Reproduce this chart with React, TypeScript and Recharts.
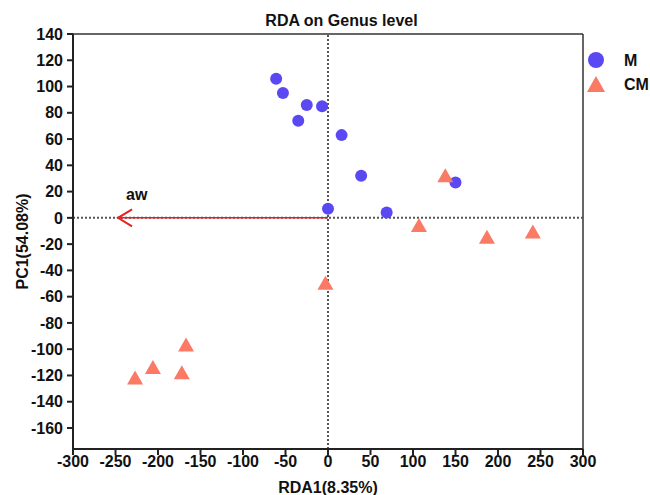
import {
  ScatterChart,
  Scatter,
  XAxis,
  YAxis,
  ReferenceLine,
  ReferenceDot
} from 'recharts'

// M group (circles)
const mX = [-61, -53, -35, -25, -7, 0, 16, 39, 69, 150]
const mY = [106, 95, 74, 86, 85, 7, 63, 32, 4, 27]

// CM group (triangles)
const cmX = [138, 107, 187, 241, -3, -167, -206, -172, -227]
const cmY = [31, -7, -16, -12, -51, -98, -115, -119, -123]

const xTicks = [-300, -250, -200, -150, -100, -50, 0, 50, 100, 150, 200, 250, 300]
const yTicks = [-160, -140, -120, -100, -80, -60, -40, -20, 0, 20, 40, 60, 80, 100, 120, 140]

// environmental vector
const arrowName = 'aw'
const arrowX = -247
const arrowY = 0

const BLUE = '#5a49f3'
const SALMON = '#fa7a66'
const RED = '#e8211d'
const FONT = '"Liberation Sans", Arial, sans-serif'

const mData = mX.map((x, i) => ({ x, y: mY[i] }))
const cmData = cmX.map((x, i) => ({ x, y: cmY[i] }))

const tickStyle = { fontFamily: FONT, fontSize: 16, fontWeight: 700, fill: '#111' }

function Dot(props: any) {
  const { cx, cy } = props
  return <circle cx={cx} cy={cy} r={6} fill={BLUE} />
}

function Tri(props: any) {
  const { cx, cy } = props
  // centroid at (cx, cy), side ~16
  return (
    <polygon
      points={`${cx},${cy - 9} ${cx - 8},${cy + 5} ${cx + 8},${cy + 5}`}
      fill={SALMON}
    />
  )
}

function ArrowHead(props: any) {
  const { cx, cy } = props
  return (
    <g>
      <path
        d={`M${cx + 14},${cy - 8.5} L${cx},${cy} L${cx + 14},${cy + 8.5}`}
        fill="none"
        stroke={RED}
        strokeWidth={2}
      />
      <text
        x={cx + 8}
        y={cy - 18}
        fontFamily={FONT}
        fontSize={16}
        fontWeight={700}
        fill="#111"
      >
        {arrowName}
      </text>
    </g>
  )
}

function LegendBox() {
  return (
    <svg width={70} height={50} style={{ position: 'absolute', left: 586, top: 48 }}>
      <circle cx={10} cy={12} r={8} fill={BLUE} />
      <text x={38} y={18} fontFamily={FONT} fontSize={16} fontWeight={700} fill="#111">
        M
      </text>
      <polygon points="10,28 1,44 19,44" fill={SALMON} />
      <text x={38} y={42} fontFamily={FONT} fontSize={16} fontWeight={700} fill="#111">
        CM
      </text>
    </svg>
  )
}

export default function App() {
  return (
    <div style={{ position: 'absolute', left: 0, top: 0, width: 650, height: 495 }}>
      <div
        style={{
          position: 'absolute',
          left: 0,
          top: 13,
          width: 683,
          textAlign: 'center',
          fontFamily: FONT,
          fontSize: 16,
          fontWeight: 700,
          lineHeight: '16px',
          color: '#111'
        }}
      >
        RDA on Genus level
      </div>
      <ScatterChart
        width={650}
        height={495}
        margin={{ top: 34, right: 67, bottom: 1, left: 13 }}
      >
        <XAxis
          type="number"
          dataKey="x"
          domain={[-300, 300]}
          ticks={xTicks}
          interval={0}
          height={45}
          tick={tickStyle}
          tickSize={6}
          tickMargin={1}
          axisLine={{ stroke: '#222', strokeWidth: 2 }}
          tickLine={{ stroke: '#222', strokeWidth: 2 }}
          label={{
            value: 'RDA1(8.35%)',
            position: 'insideBottom',
            offset: 1,
            style: { fontFamily: FONT, fontSize: 16, fontWeight: 700, fill: '#111' }
          }}
        />
        <YAxis
          type="number"
          dataKey="y"
          domain={[-176, 140]}
          ticks={yTicks}
          interval={0}
          width={60}
          tick={tickStyle}
          tickSize={6}
          tickMargin={4}
          axisLine={{ stroke: '#222', strokeWidth: 2 }}
          tickLine={{ stroke: '#222', strokeWidth: 2 }}
          label={{
            value: 'PC1(54.08%)',
            angle: -90,
            position: 'insideLeft',
            offset: 9,
            style: { fontFamily: FONT, fontSize: 16, fontWeight: 700, fill: '#111', textAnchor: 'middle' }
          }}
        />
        <ReferenceLine y={140} stroke="#333" strokeWidth={1.5} />
        <ReferenceLine x={300} stroke="#333" strokeWidth={1.5} />
        <ReferenceLine y={0} stroke="#555" strokeWidth={2} strokeDasharray="2 2" />
        <ReferenceLine x={0} stroke="#555" strokeWidth={2} strokeDasharray="2 2" />
        <ReferenceLine
          segment={[{ x: 0, y: 0 }, { x: arrowX, y: arrowY }]}
          stroke={RED}
          strokeWidth={1.5}
        />
        <ReferenceDot x={arrowX} y={arrowY} r={0} shape={ArrowHead} />
        <Scatter name="M" data={mData} fill={BLUE} shape={Dot} isAnimationActive={false} />
        <Scatter name="CM" data={cmData} fill={SALMON} shape={Tri} isAnimationActive={false} />
      </ScatterChart>
      <LegendBox />
    </div>
  )
}
